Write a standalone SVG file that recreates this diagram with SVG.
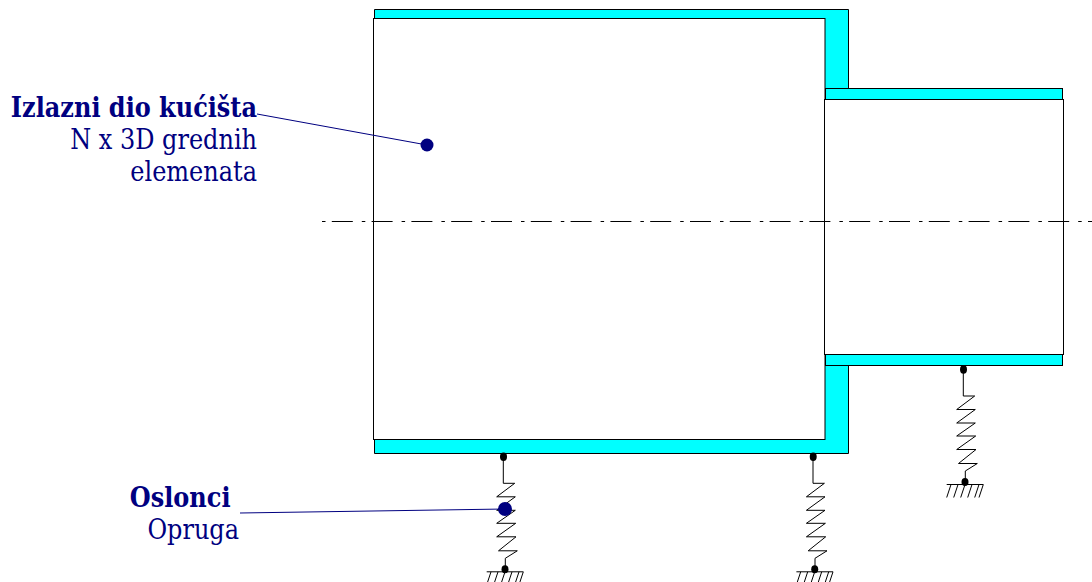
<svg xmlns="http://www.w3.org/2000/svg" width="1092" height="582" viewBox="0 0 1092 582">
<style>
.sp{fill:none;stroke:#000;stroke-width:1}
.dot{fill:#000}
.call{fill:none;stroke:#000080;stroke-width:1}
.cdot{fill:#000080}
.body{fill:#0ff;stroke:#000;stroke-width:1}
.void{fill:#fff;stroke:#000;stroke-width:1}
text{font-family:"DejaVu Serif",serif;font-size:24px;fill:#000080;text-anchor:end}
.b{font-weight:bold}
</style>
<defs>
<g id="spring">
<path class="sp" d="M963.3 369.5V396H974.7L956.7 409.5H975.3L956.7 423H975.3L956.7 436H975.7L956.7 449.5H976L958.5 463.5H977.3L965.3 471V482"/>
<ellipse class="dot" cx="963.5" cy="369.5" rx="3.5" ry="4.2"/>
<ellipse class="dot" cx="965" cy="482" rx="3.5" ry="4"/>
<path class="sp" d="M946.7 484.5H983.3M951 484.5L946.7 497.5M958 484.5L953.7 497.5M965 484.5L960.7 497.5M972 484.5L967.7 497.5M979 484.5L974.7 497.5M983.3 484.5L979 497.5"/>
</g>
</defs>
<g id="housing">
<path class="body" d="M374.5 9.5H848.5V88.5H825.5V365.5H848.5V453.5H374.5Z"/>
<rect class="body" x="825.5" y="88.5" width="237" height="11"/>
<rect class="body" x="825.5" y="354.5" width="237" height="11"/>
</g>
<g id="cavity">
<rect class="void" x="373.5" y="18.5" width="451.5" height="421"/>
</g>
<g id="shaft">
<rect class="void" x="824.5" y="99.5" width="239" height="255"/>
</g>
<g id="connectors">
<path d="M322 221.5H1092" fill="none" stroke="#000" stroke-width="1" stroke-dasharray="21 9 3.5 6.3" stroke-dashoffset="30"/>
</g>
<g id="spring-right"><use href="#spring"/></g>
<g id="spring-middle"><use href="#spring" transform="translate(-150.3 87.3)"/></g>
<g id="spring-left"><use href="#spring" transform="translate(-460 87.3)"/></g>
<g id="callout-housing">
<path class="call" d="M257 114L427 145"/>
<circle class="cdot" cx="427" cy="145" r="6.5"/>
<text class="b" transform="translate(257 117) scale(1 1.14)">Izlazni dio kućišta</text>
<text transform="translate(257 148.5) scale(1 1.14)">N x 3D grednih</text>
<text transform="translate(257 180.5) scale(1 1.14)">elemenata</text>
</g>
<g id="callout-supports">
<path class="call" d="M240 513L505 509"/>
<circle class="cdot" cx="505" cy="509" r="7"/>
<text class="b" transform="translate(230.5 507) scale(1 1.14)">Oslonci</text>
<text transform="translate(239 539) scale(1 1.14)">Opruga</text>
</g>
</svg>
